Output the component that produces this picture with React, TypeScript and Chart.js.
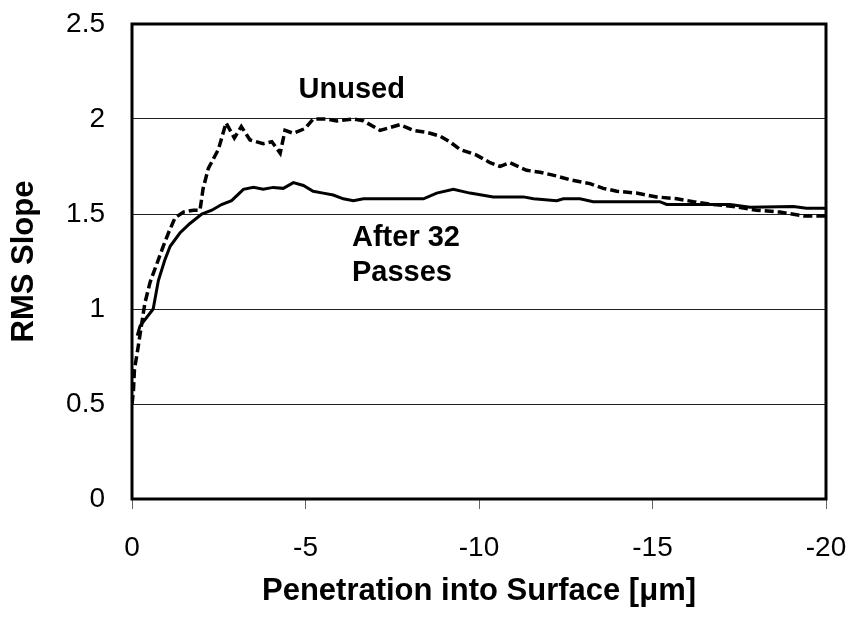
import React, { useEffect, useRef } from "react";
import { Chart, registerables } from "chart.js";

Chart.register(...registerables);

// Penetration depth (µm, negative into surface) and RMS slope
const unusedDepth = [0, -0.04, -0.07, -0.16, -0.37, -0.52, -0.9, -1.05, -1.24, -1.48, -1.77, -1.96, -2.05, -2.2, -2.49, -2.71, -2.95, -3.15, -3.4, -3.78, -4.03, -4.27, -4.41, -4.65, -4.99, -5.22, -5.61, -5.9, -6.38, -6.67, -7.15, -7.72, -8.11, -8.49, -8.88, -9.16, -9.45, -9.93, -10.32, -10.61, -10.89, -11.37, -11.76, -12.24, -12.62, -13.2, -13.58, -13.97, -14.54, -15.12, -15.7, -16.18, -16.75, -17.33, -18.0, -18.67, -19.35, -20.0];
const unusedSlope = [0.5, 0.565, 0.68, 0.78, 1.03, 1.14, 1.33, 1.4, 1.48, 1.51, 1.52, 1.52, 1.635, 1.74, 1.84, 1.98, 1.9, 1.96, 1.89, 1.87, 1.88, 1.82, 1.94, 1.925, 1.95, 2.0, 2.0, 1.99, 2.0, 1.99, 1.94, 1.97, 1.94, 1.93, 1.91, 1.88, 1.84, 1.81, 1.77, 1.75, 1.77, 1.73, 1.72, 1.7, 1.68, 1.66, 1.635, 1.62, 1.61, 1.59, 1.58, 1.565, 1.55, 1.54, 1.52, 1.51, 1.49, 1.49];

const passedDepth = [-0.15, -0.23, -0.61, -0.76, -0.95, -1.1, -1.38, -1.67, -2.01, -2.3, -2.58, -2.87, -3.21, -3.5, -3.78, -4.07, -4.36, -4.65, -4.94, -5.22, -5.51, -5.8, -6.09, -6.38, -6.67, -6.95, -7.82, -8.4, -8.78, -9.26, -9.74, -10.41, -11.28, -11.57, -12.24, -12.43, -12.91, -13.29, -15.21, -15.41, -16.18, -17.23, -17.81, -19.06, -19.44, -20.0];
const passedSlope = [0.86, 0.91, 1.0, 1.15, 1.26, 1.33, 1.4, 1.45, 1.5, 1.52, 1.55, 1.57, 1.63, 1.64, 1.63, 1.64, 1.635, 1.665, 1.65, 1.62, 1.61, 1.6, 1.58, 1.57, 1.58, 1.58, 1.58, 1.58, 1.61, 1.63, 1.61, 1.59, 1.59, 1.58, 1.57, 1.58, 1.58, 1.565, 1.565, 1.55, 1.55, 1.55, 1.535, 1.54, 1.53, 1.53];

const xTickValues = [0, -5, -10, -15, -20];
const yTickValues = [0, 0.5, 1, 1.5, 2, 2.5];

const annotationTexts = ["Unused", "After 32", "Passes"];
const annotationX = [-4.8, -6.34, -6.34];
const annotationY = [2.11, 1.33, 1.145];

const FONT = "'Liberation Sans', Arial, Helvetica, sans-serif";

const framePlugin = {
  id: "frameAndLabels",
  afterDatasetsDraw(chart: any) {
    const { ctx, chartArea, scales } = chart;
    ctx.save();
    ctx.strokeStyle = "#000";
    ctx.lineWidth = 3;
    ctx.strokeRect(chartArea.left, chartArea.top, chartArea.right - chartArea.left, chartArea.bottom - chartArea.top);
    ctx.fillStyle = "#000";
    ctx.font = `bold 29px ${FONT}`;
    ctx.textAlign = "left";
    ctx.textBaseline = "alphabetic";
    annotationTexts.forEach((t, i) => {
      ctx.fillText(t, scales.x.getPixelForValue(annotationX[i]), scales.y.getPixelForValue(annotationY[i]));
    });
    ctx.restore();
  },
};

const zeroPad = (s: any) => {
  s.paddingTop = 0;
  s.paddingBottom = 0;
  s.paddingLeft = 0;
  s.paddingRight = 0;
};

export default function App() {
  const ref = useRef<HTMLCanvasElement | null>(null);
  useEffect(() => {
    if (!ref.current) return;
    const chart = new Chart(ref.current, {
      type: "line",
      data: {
        datasets: [
          {
            label: "Unused",
            data: unusedDepth.map((x, i) => ({ x, y: unusedSlope[i] })),
            borderColor: "#000",
            borderWidth: 3.5,
            borderDash: [9, 4],
            pointRadius: 0,
            tension: 0,
            fill: false,
          },
          {
            label: "After 32 Passes",
            data: passedDepth.map((x, i) => ({ x, y: passedSlope[i] })),
            borderColor: "#000",
            borderWidth: 3,
            pointRadius: 0,
            tension: 0,
            fill: false,
          },
        ],
      },
      options: {
        animation: false,
        responsive: false,
        maintainAspectRatio: false,
        layout: { padding: { left: 0, top: 24, right: 28, bottom: 0 } },
        plugins: { legend: { display: false }, tooltip: { enabled: false }, title: { display: false } },
        scales: {
          x: {
            type: "linear",
            reverse: true,
            min: -20,
            max: 0,
            afterBuildTicks: (s: any) => {
              s.ticks = xTickValues.map((v) => ({ value: v }));
            },
            afterFit: (s: any) => {
              s.height = 123;
              zeroPad(s);
            },
            border: { display: false },
            grid: { drawOnChartArea: false, drawTicks: true, tickLength: 10, color: "#666", lineWidth: 1 },
            ticks: {
              color: "#000",
              font: { family: FONT, size: 28 },
              padding: 22,
              maxRotation: 0,
              callback: (v: any) => String(v),
            },
            title: {
              display: true,
              text: "Penetration into Surface [μm]",
              color: "#000",
              font: { family: FONT, size: 31, weight: "bold" },
              padding: { top: 0, bottom: 12 },
            },
          },
          y: {
            type: "linear",
            min: 0,
            max: 2.5,
            afterBuildTicks: (s: any) => {
              s.ticks = yTickValues.map((v) => ({ value: v }));
            },
            afterFit: (s: any) => {
              s.width = 132;
              zeroPad(s);
            },
            border: { display: false },
            grid: { drawOnChartArea: true, drawTicks: false, color: "#222", lineWidth: 1 },
            ticks: {
              color: "#000",
              font: { family: FONT, size: 28 },
              padding: 27,
              callback: (v: any) => String(v),
            },
            title: {
              display: true,
              text: "RMS Slope",
              color: "#000",
              font: { family: FONT, size: 31, weight: "bold" },
              padding: { top: 6, bottom: 0 },
            },
          },
        },
      },
      plugins: [framePlugin],
    });
    return () => chart.destroy();
  }, []);
  return (
    <div style={{ position: "absolute", left: 0, top: 0, width: 854, height: 622, background: "#fff" }}>
      <canvas ref={ref} width={854} height={622} style={{ display: "block", width: 854, height: 622 }} />
    </div>
  );
}
